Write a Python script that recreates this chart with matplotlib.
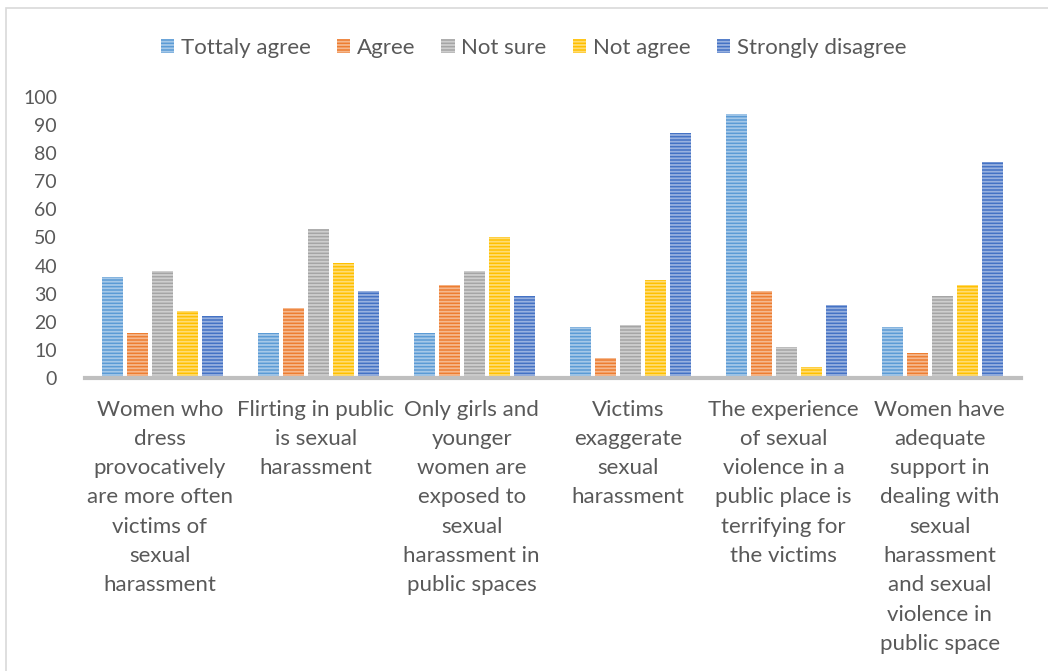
import matplotlib
matplotlib.use("Agg")
import matplotlib.pyplot as plt
import matplotlib.patches as mpatches
import numpy as np

plt.rcParams['font.family'] = ['Lato', 'DejaVu Sans']
plt.rcParams['hatch.linewidth'] = 1.3

# Survey statements (x axis) and answer shares per option
categories = [
    "Women who\ndress\nprovocatively\nare more often\nvictims of\nsexual\nharassment",
    "Flirting in public\nis sexual\nharassment",
    "Only girls and\nyounger\nwomen are\nexposed to\nsexual\nharassment in\npublic spaces",
    "Victims\nexaggerate\nsexual\nharassment",
    "The experience\nof sexual\nviolence in a\npublic place is\nterrifying for\nthe victims",
    "Women have\nadequate\nsupport in\ndealing with\nsexual\nharassment\nand sexual\nviolence in\npublic space",
]
series_names = ["Tottaly agree", "Agree", "Not sure", "Not agree", "Strongly disagree"]
tottaly_agree = [36, 16, 16, 18, 94, 18]
agree = [16, 25, 33, 7, 31, 9]
not_sure = [38, 53, 38, 19, 11, 29]
not_agree = [24, 41, 50, 35, 4, 33]
strongly_disagree = [22, 31, 29, 87, 26, 77]
series_values = [tottaly_agree, agree, not_sure, not_agree, strongly_disagree]

colors = ["#5B9BD5", "#ED7D31", "#A5A5A5", "#FFC000", "#4472C4"]
text_color = "#595959"


def tint(hex_color, amount=0.45):
    rgb = np.array(matplotlib.colors.to_rgb(hex_color))
    return tuple(rgb + (1 - rgb) * amount)


fig = plt.figure(figsize=(10.48, 6.71), dpi=100)
ax = fig.add_axes([0.081, 0.4367, 0.893, 0.4188])

x = np.arange(len(categories))
step = 0.16
width = 0.135
for i, (name, vals, col) in enumerate(zip(series_names, series_values, colors)):
    ax.bar(x + (i - 2) * step, vals, width, color=col, edgecolor=tint(col),
           linewidth=0, hatch="-----", label=name, zorder=2)

ax.set_xlim(-0.5, len(categories) - 0.5)
ax.set_ylim(0, 100)
ax.set_yticks(range(0, 101, 10))
ax.tick_params(axis="y", length=0, pad=20, labelsize=14, labelcolor=text_color)
ax.set_xticks(x)
ax.set_xticklabels([])
ax.tick_params(axis="x", length=0)

# multi-line category labels under each group
for xi, cat in zip(x, categories):
    ax.text(xi - 0.02, -0.077, cat, transform=ax.get_xaxis_transform(), ha="center",
            va="top", fontsize=16, color=text_color, linespacing=1.58)

for side in ["top", "right", "left"]:
    ax.spines[side].set_visible(False)
ax.spines["bottom"].set_color("#BFBFBF")
ax.spines["bottom"].set_linewidth(3)

handles = [mpatches.Patch(facecolor=c, edgecolor=tint(c), linewidth=0, hatch="-----")
           for c in colors]
leg = fig.legend(handles, series_names, loc="center", bbox_to_anchor=(0.509, 0.929),
                 ncol=5, frameon=False, fontsize=16, handlelength=0.6,
                 handleheight=0.6, handletextpad=0.3, columnspacing=1.18)
for t in leg.get_texts():
    t.set_color(text_color)

# light chart-area border
fig.patches.append(mpatches.Rectangle((6 / 1048, -0.01), 1.0, 1.0 - 8 / 671 + 0.01,
                                      transform=fig.transFigure, fill=False,
                                      edgecolor="#D9D9D9", linewidth=1.2))

fig.savefig("out.png", dpi=100)
